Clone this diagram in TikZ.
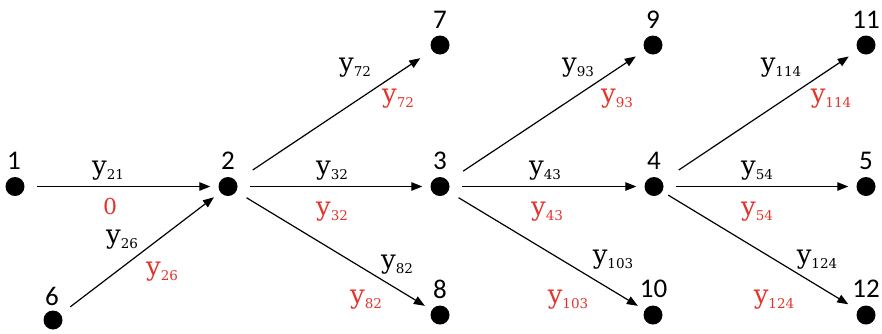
\documentclass[tikz,border=0pt]{standalone}
\usepackage{fontspec}
\newfontfamily\numfont{Carlito}
\newfontfamily\lblfont{DejaVu Serif}
\usetikzlibrary{arrows.meta}
\definecolor{lblred}{RGB}{228,52,42}
\newcommand{\yl}[1]{{\lblfont\fontsize{26}{26}\selectfont y}\raisebox{-5pt}{\lblfont\fontsize{13.5}{13.5}\selectfont #1}}
\begin{document}
\begin{tikzpicture}[x=1pt,y=-1pt,
  dot/.style={circle,fill=black,inner sep=0pt,minimum size=19pt},
  num/.style={font=\numfont\fontsize{27}{27}\selectfont,inner sep=0pt},
  arr/.style={line width=1.2pt,-{Triangle[length=11pt,width=8.5pt]},shorten <=12pt,shorten >=8pt},
  lb/.style={inner sep=0pt},
  lr/.style={lb,text=lblred}]
\useasboundingbox (0,0) rectangle (882,333);
% nodes
\node[dot] (n1) at (15,186.5) {};
\node[dot] (n2) at (228,186.5) {};
\node[dot] (n3) at (440,186.5) {};
\node[dot] (n4) at (654,186.5) {};
\node[dot] (n5) at (866,186.5) {};
\node[dot] (n6) at (53,320) {};
\node[dot] (n7) at (440,45) {};
\node[dot] (n8) at (440,315) {};
\node[dot] (n9) at (653,45) {};
\node[dot] (n10) at (653,315) {};
\node[dot] (n11) at (866,45) {};
\node[dot] (n12) at (866,315) {};
% number labels
\node[num] (t1) at (14,161) {1};
\node[num] (t2) at (228,161) {2};
\node[num] (t3) at (440,161) {3};
\node[num] (t4) at (654,161) {4};
\node[num] (t5) at (866,161) {5};
\node[num] (t6) at (52,296) {6};
\node[num] (t7) at (440,20) {7};
\node[num] (t8) at (440,289) {8};
\node[num] (t9) at (653,20) {9};
\node[num] (t10) at (653.5,289) {10};
\node[num] (t11) at (866,20) {11};
\node[num] (t12) at (866,289) {12};
% arrows
\draw[arr] (n1) -- (n2);
\draw[arr] (n6) -- (n2);
\draw[arr,shorten <=20pt,shorten >=14pt] (n2) -- (n7);
\draw[arr] (n2) -- (n3);
\draw[arr] (n2) -- (n8);
\draw[arr,shorten <=18pt,shorten >=11pt] (n3) -- (n9);
\draw[arr] (n3) -- (n4);
\draw[arr] (n3) -- (n10);
\draw[arr,shorten <=20pt,shorten >=11pt] (n4) -- (n11);
\draw[arr] (n4) -- (n5);
\draw[arr,shorten <=7pt,shorten >=11pt] (n4) -- (n12);
% edge labels
\node[lb] (a21) at (108,171) {\yl{21}};
\node[lr,font=\lblfont\fontsize{22}{22}\selectfont] (b21) at (110,206) {0};
\node[lb] (a26) at (122,240) {\yl{26}};
\node[lr] (b26) at (162,272) {\yl{26}};
\node[lb] (a72) at (355,68) {\yl{72}};
\node[lr] (b72) at (398,99) {\yl{72}};
\node[lb] (a32) at (332,171) {\yl{32}};
\node[lr] (b32) at (332,212) {\yl{32}};
\node[lb] (a82) at (397,265) {\yl{82}};
\node[lr] (b82) at (366,300) {\yl{82}};
\node[lb] (a93) at (578,68) {\yl{93}};
\node[lr] (b93) at (617,99) {\yl{93}};
\node[lb] (a43) at (545,171) {\yl{43}};
\node[lr] (b43) at (547,212) {\yl{43}};
\node[lb] (a103) at (613,260) {\yl{103}};
\node[lr] (b103) at (568,300) {\yl{103}};
\node[lb] (a114) at (781,68) {\yl{114}};
\node[lr] (b114) at (831,99) {\yl{114}};
\node[lb] (a54) at (757,171) {\yl{54}};
\node[lr] (b54) at (757,212) {\yl{54}};
\node[lb] (a124) at (817,260) {\yl{124}};
\node[lr] (b124) at (774,300) {\yl{124}};
\end{tikzpicture}
\end{document}
